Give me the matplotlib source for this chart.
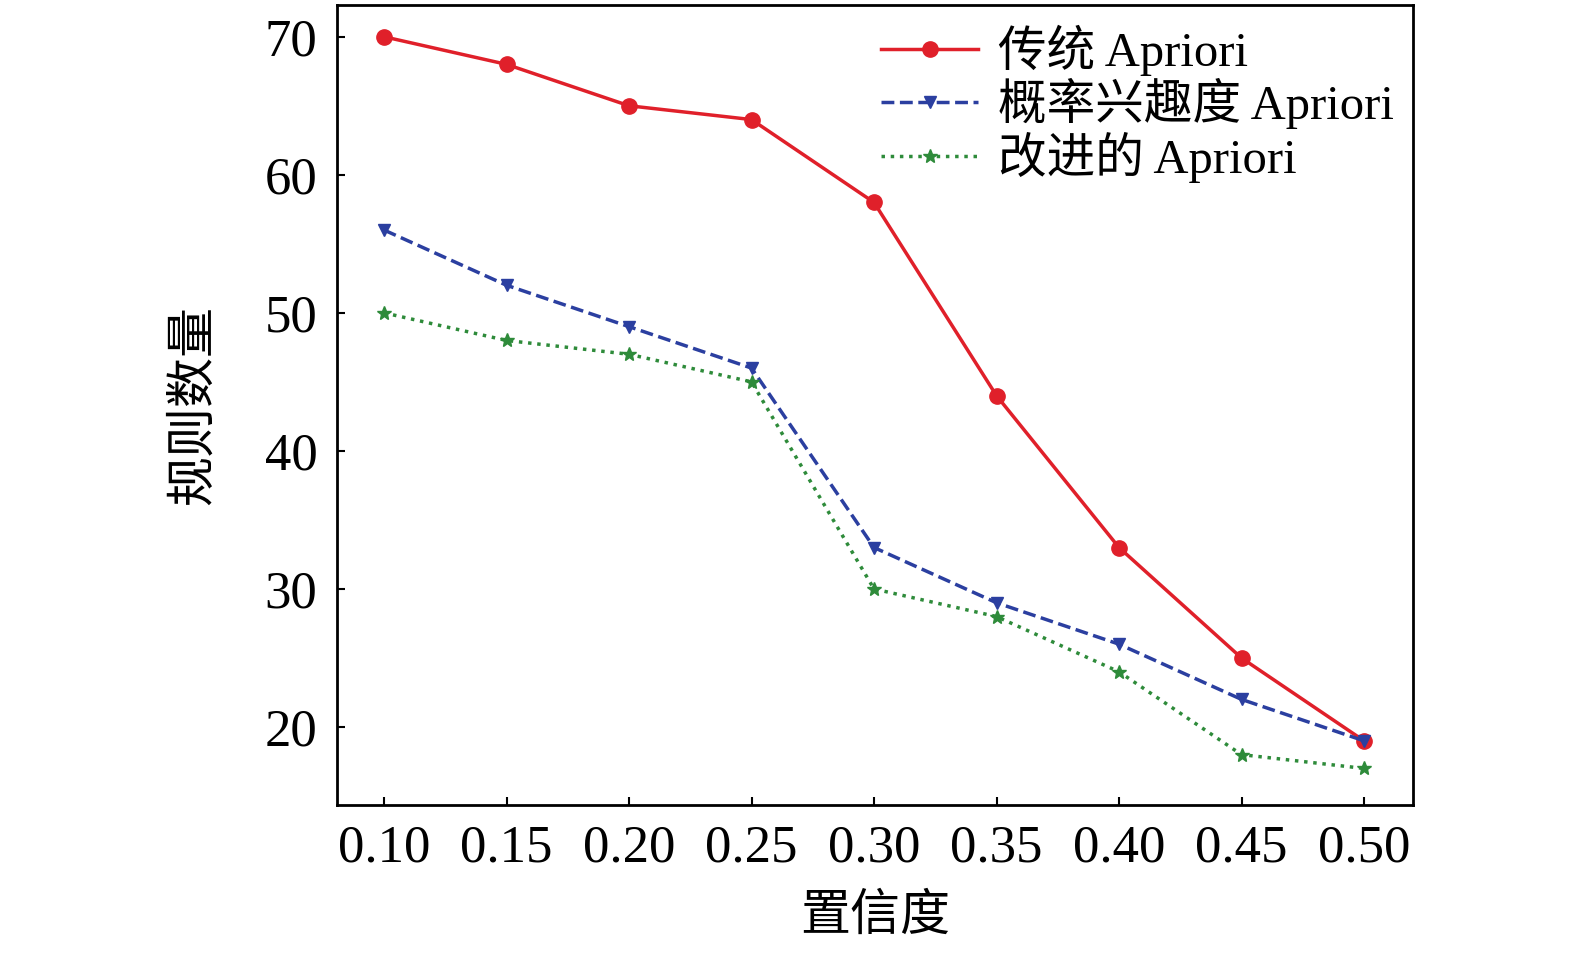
import matplotlib
matplotlib.use("Agg")
import matplotlib.pyplot as plt

plt.rcParams['font.family'] = ['Liberation Serif', 'Noto Sans CJK SC']

conf = [0.10, 0.15, 0.20, 0.25, 0.30, 0.35, 0.40, 0.45, 0.50]
tick_labels = ["0.10", "0.15", "0.20", "0.25", "0.30", "0.35", "0.40", "0.45", "0.50"]
traditional = [70, 68, 65, 64, 58, 44, 33, 25, 19]
probability = [56, 52, 49, 46, 33, 29, 26, 22, 19]
improved = [50, 48, 47, 45, 30, 28, 24, 18, 17]

fig = plt.figure(figsize=(15.75, 9.58), dpi=100)
ax = fig.add_axes([337/1575, 1-805/958, (1413-337)/1575, 800/958])

ax.plot(conf, traditional, '-o', color='#e0202a', lw=2.5, ms=11, label='传统 Apriori')
ax.plot(conf, probability, '--v', color='#2b3fa0', lw=2.5, ms=9, label='概率兴趣度 Apriori')
ax.plot(conf, improved, ':*', color='#2e8b3a', lw=2.5, ms=10, label='改进的 Apriori')

ax.set_xlim(0.0808, 0.52)
ax.set_ylim(14.35, 72.3)
ax.set_xticks(conf)
ax.set_xticklabels(tick_labels)
ax.set_yticks([20, 30, 40, 50, 60, 70])
ax.tick_params(direction='in', labelsize=38, length=6, width=1.5, top=False, right=False, pad=14)
for s in ax.spines.values():
    s.set_linewidth(2)

ax.set_xlabel('置信度', fontsize=36, labelpad=16)
ax.set_ylabel('规则数量', fontsize=36, labelpad=34)

ax.legend(loc='upper right', fontsize=35, frameon=False, handlelength=2,
          borderaxespad=0.0, labelspacing=0.05, handletextpad=0.4)

fig.savefig('out.png', dpi=100)
